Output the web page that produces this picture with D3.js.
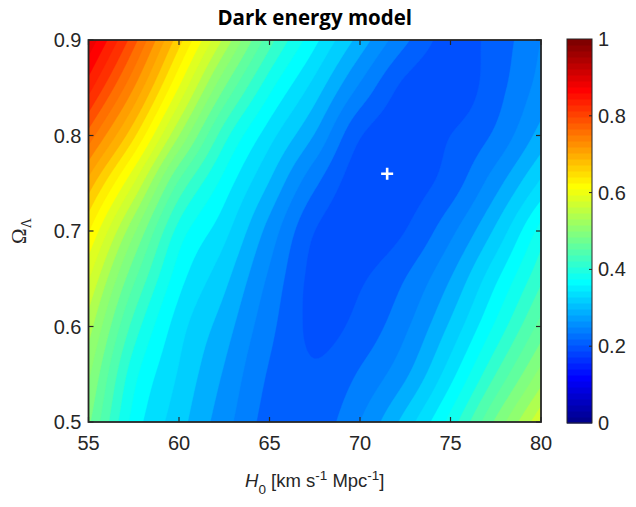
<!DOCTYPE html>
<html><head><meta charset="utf-8">
<script src="https://cdn.jsdelivr.net/npm/d3@7"></script>
<style>body{margin:0;background:#fff;} svg{display:block}</style>
</head><body>
<svg id="c" width="636" height="507"></svg>
<script>
// ---- data ----
const H0 = [55, 57.5, 60, 62.5, 65, 67.5, 70, 72.5, 75, 77.5, 80];
const OmegaL = [0.5, 0.55, 0.6, 0.65, 0.7, 0.75, 0.8, 0.85, 0.9];
// normalised statistic, one row per Omega_Lambda value (ascending)
const row050 = [0.48, 0.365, 0.31, 0.26, 0.215, 0.21, 0.25, 0.31, 0.385, 0.48, 0.57];
const row055 = [0.505, 0.384, 0.322, 0.272, 0.222, 0.203, 0.228, 0.27, 0.34, 0.425, 0.51];
const row060 = [0.537, 0.415, 0.336, 0.287, 0.232, 0.194, 0.208, 0.245, 0.305, 0.38, 0.46];
const row065 = [0.577, 0.455, 0.36, 0.307, 0.245, 0.192, 0.197, 0.225, 0.275, 0.345, 0.42];
const row070 = [0.627, 0.505, 0.39, 0.333, 0.265, 0.20, 0.185, 0.20, 0.243, 0.305, 0.385];
const row075 = [0.69, 0.575, 0.445, 0.365, 0.298, 0.23, 0.185, 0.188, 0.212, 0.265, 0.33];
const row080 = [0.765, 0.655, 0.525, 0.41, 0.335, 0.273, 0.202, 0.185, 0.20, 0.23, 0.285];
const row085 = [0.835, 0.725, 0.598, 0.475, 0.382, 0.314, 0.245, 0.193, 0.183, 0.215, 0.26];
const row090 = [0.895, 0.785, 0.66, 0.544, 0.435, 0.357, 0.29, 0.23, 0.19, 0.21, 0.25];
const rows = [row050, row055, row060, row065, row070, row075, row080, row085, row090];
const bestFit = [71.5, 0.76];
const xTicks = [55, 60, 65, 70, 75, 80];
const yTicks = [0.5, 0.6, 0.7, 0.8, 0.9];
const cTicks = [0, 0.2, 0.4, 0.6, 0.8, 1];
const levelStep = 0.025;

// ---- layout ----
const L = 88.5, R = 541, T = 40, B = 422;
const svg = d3.select("#c");
const ink = "#262626";
const x = d3.scaleLinear().domain([55, 80]).range([L, R]);
const y = d3.scaleLinear().domain([0.5, 0.9]).range([B, T]);

// MATLAB jet(64)
function jet64(k) {
  const u = j => (j < 1 || j > 47) ? 0 : (j <= 16 ? j / 16 : (j <= 31 ? 1 : (48 - j) / 16));
  return d3.rgb(Math.round(u(k - 24) * 255), Math.round(u(k - 8) * 255), Math.round(u(k + 8) * 255)).formatHex();
}
const colorOf = v => jet64(Math.max(1, Math.min(64, Math.floor(v * 64) + 1)));

// ---- smooth (bicubic) surface through the read grid, for drawing only ----
const nx = H0.length, ny = OmegaL.length;
function at(i, j) {
  if (i < 0) return 2 * at(0, j) - at(1, j);
  if (i > nx - 1) return 2 * at(nx - 1, j) - at(nx - 2, j);
  if (j < 0) return 2 * at(i, 0) - at(i, 1);
  if (j > ny - 1) return 2 * at(i, ny - 1) - at(i, ny - 2);
  return rows[j][i];
}
const cubic = (p0, p1, p2, p3, t) =>
  0.5 * (2 * p1 + (-p0 + p2) * t + (2 * p0 - 5 * p1 + 4 * p2 - p3) * t * t + (-p0 + 3 * p1 - 3 * p2 + p3) * t * t * t);
function surf(u, v) {
  const i = Math.min(Math.floor(u), nx - 2), j = Math.min(Math.floor(v), ny - 2);
  const tx = u - i, ty = v - j;
  const r = [-1, 0, 1, 2].map(dj => cubic(at(i - 1, j + dj), at(i, j + dj), at(i + 1, j + dj), at(i + 2, j + dj), tx));
  return cubic(r[0], r[1], r[2], r[3], ty);
}
const F = 12;
const fnx = (nx - 1) * F + 1, fny = (ny - 1) * F + 1;
const fine = new Array(fnx * fny);
for (let b = 0; b < fny; b++) for (let a = 0; a < fnx; a++) fine[a + b * fnx] = surf(a / F, b / F);

// ---- contour fill ----
const thresholds = d3.range(0, 1 + 1e-9, levelStep);
const contours = d3.contours().size([fnx, fny]).thresholds(thresholds)(fine);
const gx = d3.scaleLinear().domain([0.5, fnx - 0.5]).range([x(H0[0]), x(H0[nx - 1])]);
const gy = d3.scaleLinear().domain([0.5, fny - 0.5]).range([y(OmegaL[0]), y(OmegaL[ny - 1])]);
const path = d3.geoPath(d3.geoTransform({ point(px, py) { this.stream.point(gx(px), gy(py)); } }));

svg.append("clipPath").attr("id", "clip").append("rect")
  .attr("x", L).attr("y", T).attr("width", R - L).attr("height", B - T);
const gPlot = svg.append("g").attr("clip-path", "url(#clip)");
gPlot.selectAll("path").data(contours).join("path")
  .attr("d", path)
  .attr("fill", d => colorOf(d.value + levelStep / 2))
  .attr("stroke", d => colorOf(d.value + levelStep / 2))
  .attr("stroke-width", 0.4);

// best-fit marker
const mx = x(bestFit[0]), my = y(bestFit[1]);
svg.append("path").attr("d", `M${mx - 6},${my}H${mx + 6}M${mx},${my - 6}V${my + 6}`)
  .attr("stroke", "#fff").attr("stroke-width", 2.6).attr("fill", "none");

// ---- axes box & ticks ----
const tl = 5;
const gAx = svg.append("g").attr("stroke", ink).attr("stroke-width", 1.2);
xTicks.forEach(t => {
  gAx.append("line").attr("x1", x(t)).attr("x2", x(t)).attr("y1", B).attr("y2", B - tl);
  gAx.append("line").attr("x1", x(t)).attr("x2", x(t)).attr("y1", T).attr("y2", T + tl);
});
yTicks.forEach(t => {
  gAx.append("line").attr("x1", L).attr("x2", L + tl).attr("y1", y(t)).attr("y2", y(t));
  gAx.append("line").attr("x1", R).attr("x2", R - tl).attr("y1", y(t)).attr("y2", y(t));
});
svg.append("rect").attr("x", L).attr("y", T).attr("width", R - L).attr("height", B - T)
  .attr("fill", "none").attr("stroke", ink).attr("stroke-width", 1.8);

const font = "'Liberation Sans', Arial, sans-serif";
const tickSize = 20;
svg.append("g").selectAll("text").data(xTicks).join("text")
  .attr("x", d => x(d)).attr("y", B + 28).attr("text-anchor", "middle")
  .attr("font-family", font).attr("font-size", tickSize).attr("fill", ink).text(d => d);
svg.append("g").selectAll("text").data(yTicks).join("text")
  .attr("x", L - 7).attr("y", d => y(d) + 7).attr("text-anchor", "end")
  .attr("font-family", font).attr("font-size", tickSize).attr("fill", ink).text(d => d3.format(".1f")(d));

// x label
const xl = svg.append("text").attr("x", (L + R) / 2).attr("y", 487).attr("text-anchor", "middle")
  .attr("font-family", font).attr("font-size", 18.5).attr("fill", ink);
xl.append("tspan").attr("font-style", "italic").text("H");
xl.append("tspan").attr("font-size", 13.5).attr("dy", 7).text("0");
xl.append("tspan").attr("dy", -7).text(" [km s");
xl.append("tspan").attr("font-size", 13.5).attr("dy", -7).text("-1");
xl.append("tspan").attr("dy", 7).text(" Mpc");
xl.append("tspan").attr("font-size", 13.5).attr("dy", -7).text("-1");
xl.append("tspan").attr("dy", 7).text("]");

// y label
const yl = svg.append("text").attr("transform", `translate(26,${(T + B) / 2}) rotate(-90)`)
  .attr("text-anchor", "middle").attr("font-family", "'Liberation Serif', 'DejaVu Serif', serif")
  .attr("font-size", 21).attr("fill", ink);
yl.append("tspan").text("Ω");
yl.append("tspan").attr("font-size", 14).attr("dy", 5).text("Λ");

// title
svg.append("text").attr("x", (L + R) / 2).attr("y", 25).attr("text-anchor", "middle")
  .attr("font-family", "'Open Sans', 'Noto Sans', sans-serif").attr("font-weight", "bold")
  .attr("font-size", 20.5).attr("fill", "#000").text("Dark energy model");

// ---- colorbar ----
const cbL = 567, cbR = 592, cbT = 39, cbB = 423;
const cy = d3.scaleLinear().domain([0, 1]).range([cbB, cbT]);
const cb = svg.append("g");
cb.selectAll("rect").data(d3.range(1, 65)).join("rect")
  .attr("x", cbL).attr("width", cbR - cbL)
  .attr("y", k => cy(k / 64)).attr("height", k => cy((k - 1) / 64) - cy(k / 64) + 0.5)
  .attr("fill", k => jet64(k));
cTicks.forEach(t => {
  if (t > 0 && t < 1) cb.append("line").attr("x1", cbR).attr("x2", cbR - 3).attr("y1", cy(t)).attr("y2", cy(t))
    .attr("stroke", ink).attr("stroke-width", 1);
});
cb.append("rect").attr("x", cbL).attr("y", cbT).attr("width", cbR - cbL).attr("height", cbB - cbT)
  .attr("fill", "none").attr("stroke", ink).attr("stroke-width", 1);
cb.selectAll("text").data(cTicks).join("text")
  .attr("x", cbR + 6).attr("y", d => cy(d) + 7)
  .attr("font-family", font).attr("font-size", tickSize).attr("fill", ink)
  .text(d => d === 0 || d === 1 ? d : d3.format(".1f")(d));
</script>
</body></html>
